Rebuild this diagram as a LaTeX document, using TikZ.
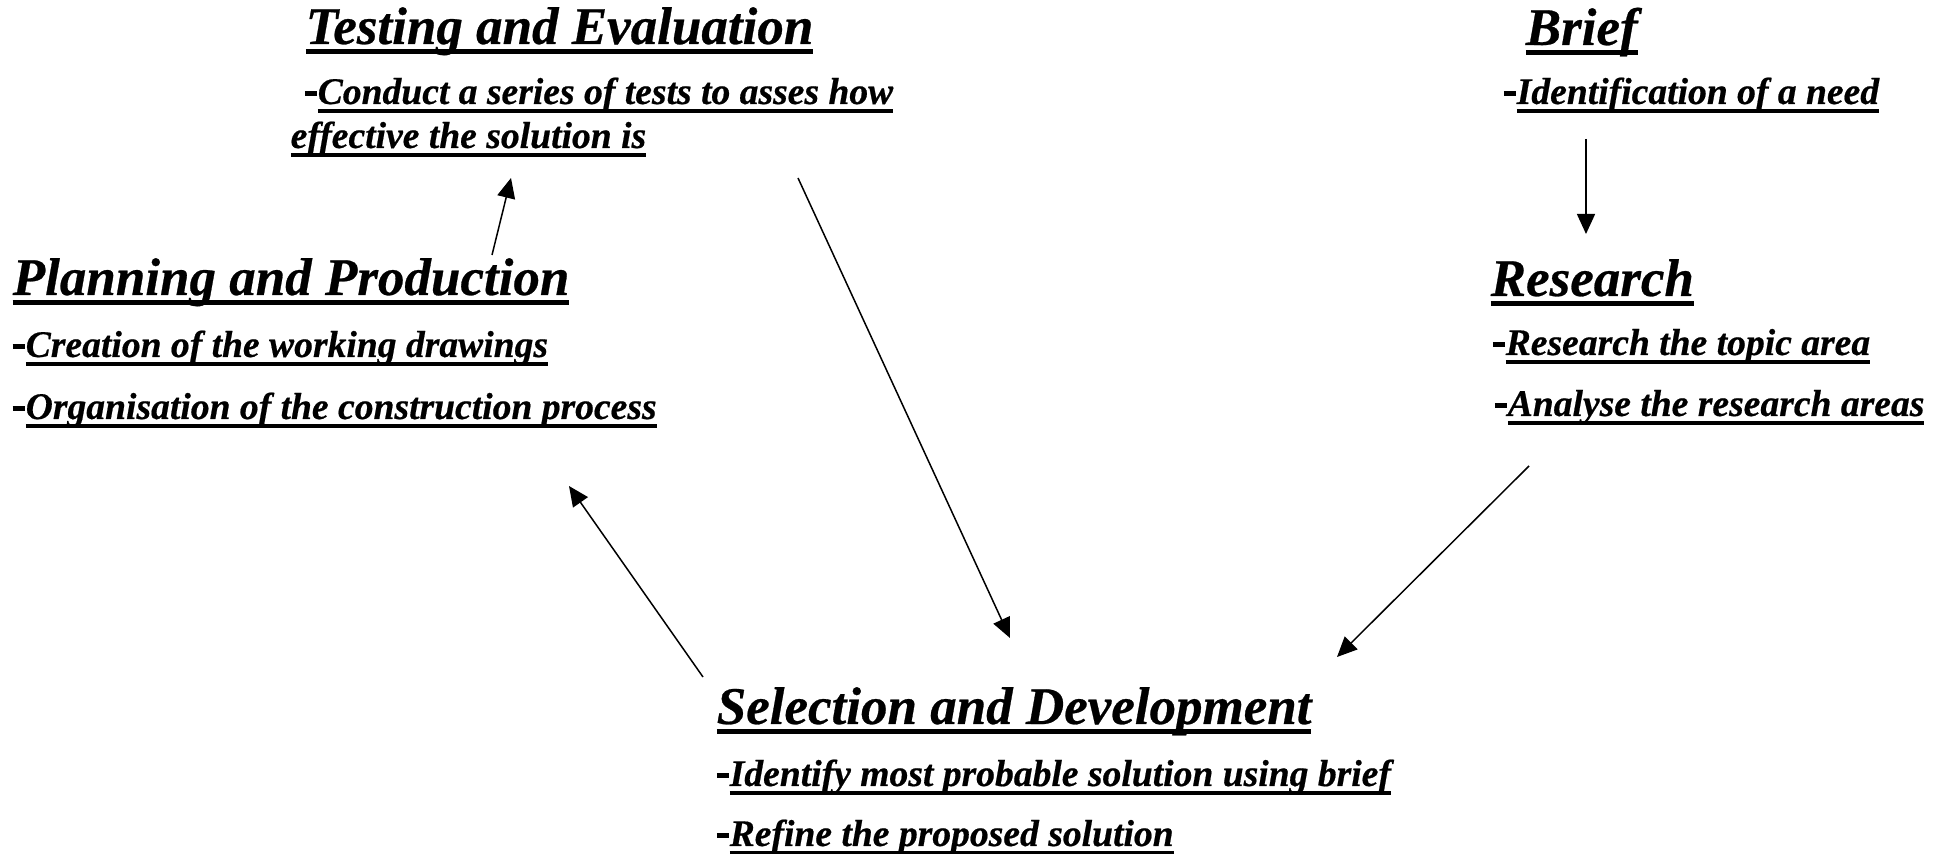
\documentclass[tikz,border=0pt]{standalone}
\usepackage{fontspec}
\setmainfont{Liberation Serif}[BoldItalicFeatures = {FakeBold = 0.5}]
\usetikzlibrary{arrows.meta}

\newlength\ulwd
\newcommand\ulbar[3]{\settowidth\ulwd{#3}\rlap{\rule[#1]{\ulwd}{#2}}#3}
\newcommand\headul[1]{\ulbar{-5.25pt}{2.75pt}{#1}}
\newcommand\itemul[1]{\ulbar{-4.5pt}{2pt}{#1}}
\newcommand\dashmark{\rule[4pt]{6pt}{2.5pt}\kern0.5pt}

\tikzset{
  heading/.style = {anchor = base west, inner sep = 0pt, font = \fontsize{26.5}{30}\selectfont\bfseries\itshape},
  point/.style = {anchor = base west, inner sep = 0pt, font = \fontsize{18.8}{22}\selectfont\bfseries\itshape},
  >={Triangle[length = 10pt, width = 9pt]}
}

\begin{document}
\begin{tikzpicture}[x = 0.5pt, y = -0.5pt, line width = 0.75pt]
\useasboundingbox (0,0) rectangle (1950,854);

\node[heading] at (305,44) (testing) {\headul{Testing and Evaluation}};
\node[point] at (304,104) (conduct) {\dashmark\itemul{Conduct a series of tests to asses how}};
\node[point] at (290,148) (effective) {\itemul{effective the solution is}};

\node[heading] at (12,295) (planning) {\headul{Planning and Production}};
\node[point] at (12,357) (drawings) {\dashmark\itemul{Creation of the working drawings}};
\node[point] at (12,419) (organisation) {\dashmark\itemul{Organisation of the construction process}};

\node[heading] at (716,724) (selection) {\headul{Selection and Development}};
\node[point] at (716,786) (probable) {\dashmark\itemul{Identify most probable solution using brief}};
\node[point] at (716,846) (refine) {\dashmark\itemul{Refine the proposed solution}};

\node[heading] at (1525,45) (brief) {\headul{Brief}};
\node[point] at (1503,104) (need) {\dashmark\itemul{Identification of a need}};

\node[heading] at (1490,296) (research) {\headul{Research}};
\node[point] at (1492,355) (topic) {\dashmark\itemul{Research the topic area}};
\node[point] at (1494,416) (analyse) {\dashmark\itemul{Analyse the research areas}};

\draw[->] ([shift = {(83,35)}]need.base west) -- ([shift = {(96,-62)}]research.base west);
\draw[->] ([shift = {(35,50)}]analyse.base west) -- ([shift = {(621,-67)}]selection.base west);
\draw[->] ([shift = {(494,74)}]conduct.base west) -- ([shift = {(294,-86)}]selection.base west);
\draw[->] ([shift = {(-13,-47)}]selection.base west) -- ([shift = {(557,67)}]organisation.base west);
\draw[->] ([shift = {(480,-40)}]planning.base west) -- ([shift = {(221,30)}]effective.base west);

\end{tikzpicture}
\end{document}
